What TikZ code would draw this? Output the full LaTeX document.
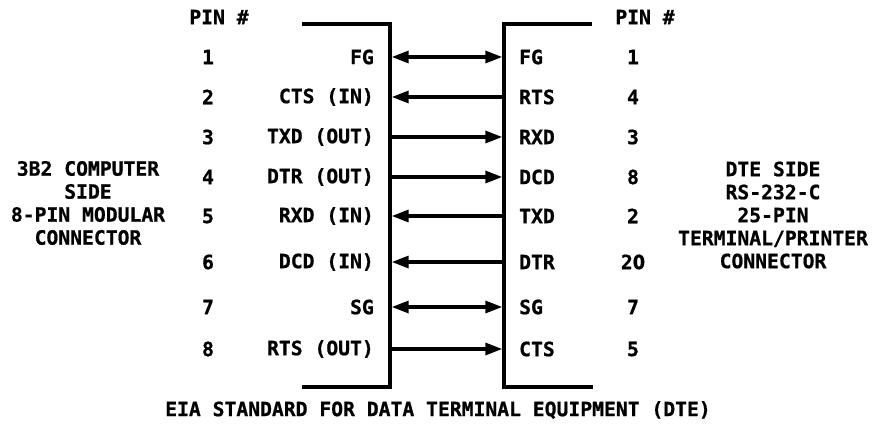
\documentclass[tikz,border=0pt]{standalone}
\usepackage{fontspec}
\setmainfont{DejaVu Sans Mono}[BoldFont={DejaVu Sans Mono Bold}, BoldFeatures={FakeBold=0.8}]
\newfontfamily\plainzero{DejaVu Sans Condensed}[BoldFont={DejaVu Sans Condensed Bold}, BoldFeatures={FakeBold=0.8}]
\usetikzlibrary{arrows.meta}
\begin{document}
\begin{tikzpicture}[x=1pt,y=-1pt,
  txt/.style={font=\fontsize{19.7}{23}\selectfont\bfseries, inner sep=0pt},
  lbl/.style={txt, anchor=east},
  rlbl/.style={txt, anchor=west},
  pin/.style={txt},
  side/.style={txt, align=center},
  wall/.style={line width=3.4pt, line cap=rect, line join=miter},
  sig/.style={line width=3.2pt, {Triangle[length=17pt,width=12pt]}-{Triangle[length=17pt,width=12pt]}},
  sigl/.style={line width=3.2pt, {Triangle[length=17pt,width=12pt]}-},
  sigr/.style={line width=3.2pt, -{Triangle[length=17pt,width=12pt]}}]
\useasboundingbox (0,0) rectangle (877,430);
% connector walls
\coordinate (LT) at (304,24); \coordinate (LTc) at (390,24);
\coordinate (LBc) at (390,387); \coordinate (LB) at (304,387);
\coordinate (RT) at (590,24); \coordinate (RTc) at (504,24);
\coordinate (RBc) at (504,387); \coordinate (RB) at (591,387);
\draw[wall] (LT) -- (LTc) -- (LBc) -- (LB);
\draw[wall] (RT) -- (RTc) -- (RBc) -- (RB);
% headers
\node[pin] (phl) at (219,17) {PIN \#};
\node[pin] (phr) at (645,17) {PIN \#};
% rows
\foreach \i/\y/\lp/\ls/\rs/\rp in {1/57/1/FG/FG/1, 2/97/2/CTS (IN)/RTS/4, 3/137/3/TXD (OUT)/RXD/3, 4/177/4/DTR (OUT)/DCD/8, 5/216/5/RXD (IN)/TXD/2, 6/262/6/DCD (IN)/DTR/2{\plainzero 0}, 7/307/7/SG/SG/7, 8/349/8/RTS (OUT)/CTS/5}{
  \node[pin] (lp\i) at (208,\y) {\lp};
  \node[lbl] (ls\i) at (374,\y) {\ls};
  \node[rlbl] (rs\i) at (519,\y) {\rs};
  \node[pin] (rp\i) at (633,\y) {\rp};
  \coordinate (L\i) at (391.7,\y);
  \coordinate (R\i) at (502.3,\y);
}
\draw[sig] (L1) -- (R1);
\draw[sigl] (L2) -- (R2);
\draw[sigr] (L3) -- (R3);
\draw[sigr] (L4) -- (R4);
\draw[sigl] (L5) -- (R5);
\draw[sigl] (L6) -- (R6);
\draw[sig] (L7) -- (R7);
\draw[sigr] (L8) -- (R8);
% side texts
\node[side] (lside) at (88,203) {3B2 COMPUTER\\SIDE\\8-PIN MODULAR\\CONNECTOR};
\node[side] (rside) at (773,215) {DTE SIDE\\RS-232-C\\25-PIN\\TERMINAL/PRINTER\\CONNECTOR};
\node[txt] (cap) at (438,410) {EIA STANDARD FOR DATA TERMINAL EQUIPMENT (DTE)};
\end{tikzpicture}
\end{document}
